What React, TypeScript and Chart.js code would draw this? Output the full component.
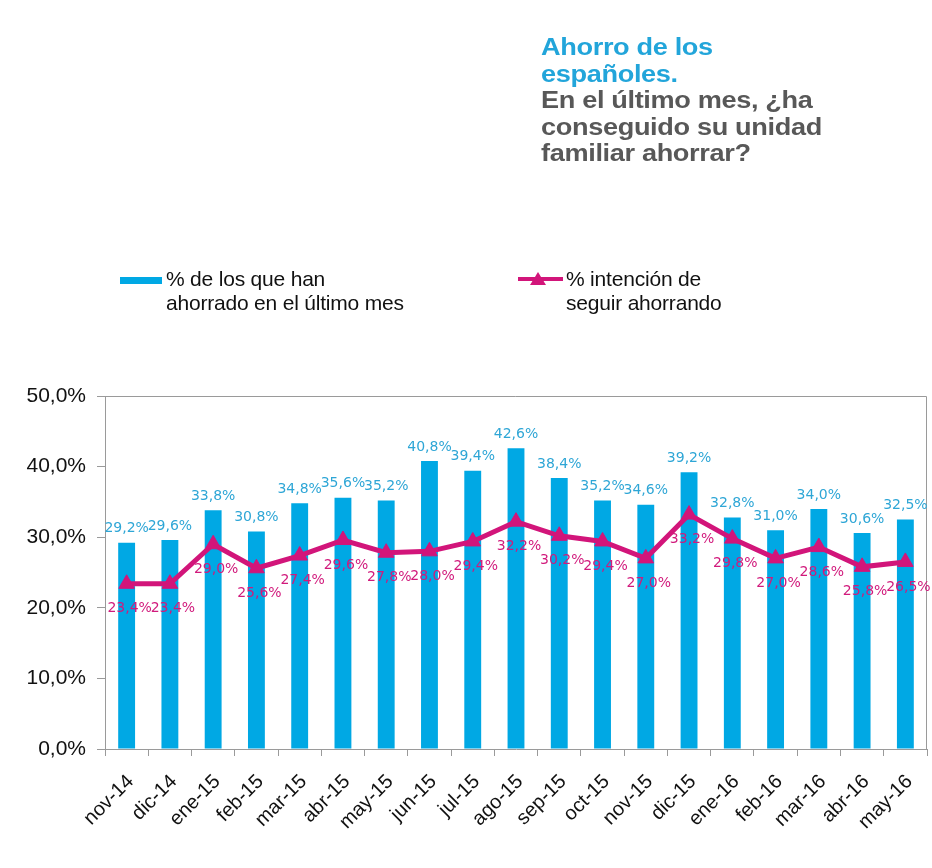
import React, { useEffect, useRef } from "react";
import { Chart, registerables } from "chart.js";

Chart.register(...registerables);

const categories = [
  "nov-14", "dic-14", "ene-15", "feb-15", "mar-15", "abr-15", "may-15", "jun-15", "jul-15", "ago-15",
  "sep-15", "oct-15", "nov-15", "dic-15", "ene-16", "feb-16", "mar-16", "abr-16", "may-16",
];
const ahorradoUltimoMes = [29.2, 29.6, 33.8, 30.8, 34.8, 35.6, 35.2, 40.8, 39.4, 42.6, 38.4, 35.2, 34.6, 39.2, 32.8, 31.0, 34.0, 30.6, 32.5];
const intencionSeguir = [23.4, 23.4, 29.0, 25.6, 27.4, 29.6, 27.8, 28.0, 29.4, 32.2, 30.2, 29.4, 27.0, 33.2, 29.8, 27.0, 28.6, 25.8, 26.5];
const yTicks = [0, 10, 20, 30, 40, 50];

const seriesNames = ["% de los que han ahorrado en el último mes", "% intención de seguir ahorrando"];
const legendLines1 = ["% de los que han", "ahorrado en el último mes"];
const legendLines2 = ["% intención de", "seguir ahorrando"];
const titleLines = ["Ahorro de los", "españoles.", "En el último mes, ¿ha", "conseguido su unidad", "familiar ahorrar?"];

const BAR = "#00A8E4";
const BAR_LABEL = "#2EA6D6";
const LINE = "#D2157A";
const LINE_LABEL = "#D11A7C";
const AXIS = "#9a9a9a";

const fmt = (v: number) => v.toFixed(1).replace(".", ",") + "%";

const labelPlugin = {
  id: "valueLabels",
  afterDatasetsDraw(chart: any) {
    const ctx = chart.ctx;
    ctx.save();
    ctx.font = "14px 'DejaVu Sans'";
    ctx.textAlign = "center";
    ctx.textBaseline = "middle";
    const barMeta = chart.getDatasetMeta(1);
    barMeta.data.forEach((el: any, i: number) => {
      ctx.fillStyle = BAR_LABEL;
      ctx.fillText(fmt(ahorradoUltimoMes[i]), el.x, el.y - 14);
    });
    const lineMeta = chart.getDatasetMeta(0);
    lineMeta.data.forEach((el: any, i: number) => {
      ctx.fillStyle = LINE_LABEL;
      ctx.fillText(fmt(intencionSeguir[i]), el.x + 3, el.y + 25);
    });
    ctx.restore();
  },
};

const borderPlugin = {
  id: "frameBorder",
  beforeDatasetsDraw(chart: any) {
    const { ctx, chartArea } = chart;
    ctx.save();
    ctx.strokeStyle = AXIS;
    ctx.lineWidth = 1;
    ctx.beginPath();
    ctx.moveTo(chartArea.left, chartArea.top + 0.5);
    ctx.lineTo(chartArea.right - 0.5, chartArea.top + 0.5);
    ctx.lineTo(chartArea.right - 0.5, chartArea.bottom);
    ctx.stroke();
    ctx.restore();
  },
};

export default function App() {
  const ref = useRef<HTMLCanvasElement | null>(null);

  useEffect(() => {
    if (!ref.current) return;
    const chart = new Chart(ref.current, {
      type: "bar",
      data: {
        labels: categories,
        datasets: [
          {
            type: "line",
            label: seriesNames[1],
            data: intencionSeguir,
            borderColor: LINE,
            backgroundColor: LINE,
            borderWidth: 5,
            pointStyle: "triangle",
            pointRadius: 9,
            pointBackgroundColor: LINE,
            pointBorderColor: LINE,
            pointBorderWidth: 1,
            tension: 0,
            order: 0,
          } as any,
          {
            type: "bar",
            label: seriesNames[0],
            data: ahorradoUltimoMes,
            backgroundColor: BAR,
            categoryPercentage: 1,
            barPercentage: 0.39,
            order: 1,
          },
        ],
      },
      options: {
        responsive: false,
        animation: false,
        layout: { autoPadding: false, padding: { top: 396, right: 5, left: 0, bottom: 0 } },
        plugins: {
          legend: { display: false },
          title: { display: false },
          tooltip: { enabled: false },
        },
        scales: {
          x: {
            offset: true,
            border: { display: true, color: AXIS, width: 1 },
            grid: { offset: true, drawOnChartArea: false, drawTicks: true, tickLength: 7, color: AXIS },
            ticks: {
              color: "#111",
              font: { family: "'Liberation Sans', Arial", size: 20 },
              minRotation: 45,
              maxRotation: 45,
              padding: 14,
              labelOffset: 4,
              autoSkip: false,
            },
            afterFit: (s: any) => {
              s.height = 119;
              s.paddingRight = 0;
              s.paddingLeft = 0;
            },
          },
          y: {
            min: 0,
            max: 50,
            border: { display: true, color: AXIS, width: 1 },
            grid: { drawOnChartArea: false, drawTicks: true, tickLength: 8, color: AXIS },
            afterBuildTicks: (s: any) => {
              s.ticks = yTicks.map((v) => ({ value: v }));
            },
            ticks: {
              color: "#111",
              font: { family: "'Liberation Sans', Arial", size: 21 },
              padding: 11,
              callback: (v: any) => fmt(Number(v)),
            },
            afterFit: (s: any) => {
              s.width = 105;
            },
          },
        },
      },
      plugins: [borderPlugin, labelPlugin],
    });
    return () => chart.destroy();
  }, []);

  const textStretch: React.CSSProperties = {
    display: "inline-block",
    transform: "scaleX(1.18)",
    transformOrigin: "left center",
    whiteSpace: "nowrap",
  };

  const legendText: React.CSSProperties = {
    position: "absolute",
    top: 267,
    fontFamily: "'Liberation Sans', Arial, sans-serif",
    fontSize: 21,
    lineHeight: "24px",
    color: "#111",
    whiteSpace: "nowrap",
    letterSpacing: "-0.2px",
  };

  return (
    <div style={{ position: "absolute", left: 0, top: 0, width: 932, height: 868, background: "#fff", overflow: "hidden" }}>
      <canvas ref={ref} width={932} height={868} style={{ position: "absolute", left: 0, top: 0, width: 932, height: 868 }} />
      <div
        style={{
          position: "absolute",
          left: 541,
          top: 34,
          fontFamily: "'Liberation Sans', Arial, sans-serif",
          fontWeight: "bold",
          fontSize: 23,
          lineHeight: "26.5px",
          letterSpacing: "-0.3px",
        }}
      >
        {titleLines.map((t, i) => (
          <div key={i} style={{ color: i < 2 ? "#22A5DA" : "#585858" }}>
            <span style={textStretch}>{t}</span>
          </div>
        ))}
      </div>
      {/* legend */}
      <div style={{ position: "absolute", left: 120, top: 277, width: 42, height: 7, background: BAR }} />
      <div style={{ ...legendText, left: 166 }}>
        {legendLines1.map((t, i) => (
          <div key={i}>{t}</div>
        ))}
      </div>
      <div style={{ position: "absolute", left: 518, top: 277, width: 45, height: 4, background: LINE }} />
      <div
        style={{
          position: "absolute",
          left: 530,
          top: 272,
          width: 0,
          height: 0,
          borderLeft: "8px solid transparent",
          borderRight: "8px solid transparent",
          borderBottom: `13px solid ${LINE}`,
        }}
      />
      <div style={{ ...legendText, left: 566 }}>
        {legendLines2.map((t, i) => (
          <div key={i}>{t}</div>
        ))}
      </div>
    </div>
  );
}
